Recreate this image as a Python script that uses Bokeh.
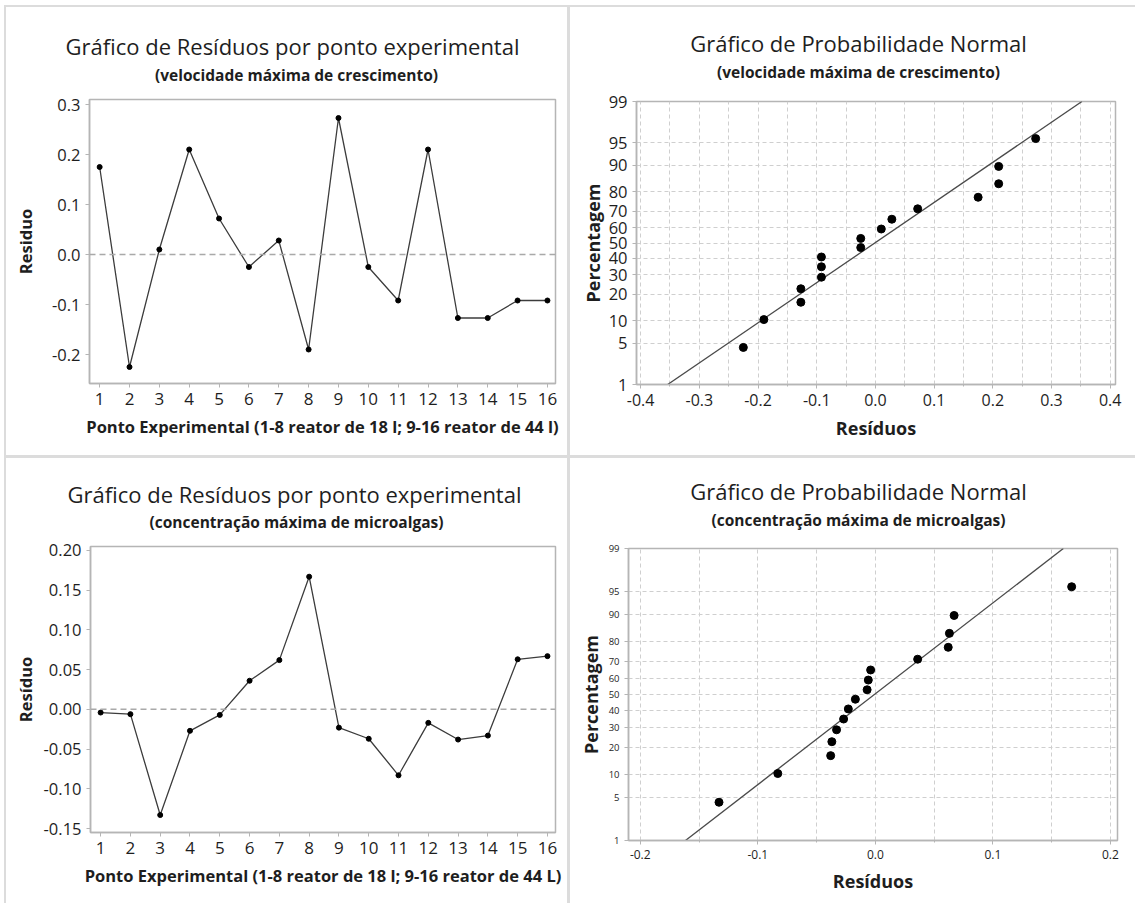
from statistics import NormalDist

import numpy as np
from bokeh.core.properties import value
from bokeh.embed import file_html
from bokeh.layouts import column, row
from bokeh.models import FixedTicker, PrintfTickFormatter, Range1d, Span
from bokeh.plotting import figure
from bokeh.resources import INLINE

# ---------------------------------------------------------------- data
points = list(range(1, 17))
res_velocidade = [0.175, -0.225, 0.010, 0.210, 0.072, -0.025, 0.028, -0.190,
                  0.273, -0.025, -0.092, 0.210, -0.127, -0.127, -0.092, -0.092]
res_concentracao = [-0.004, -0.006, -0.133, -0.027, -0.007, 0.036, 0.062, 0.167,
                    -0.023, -0.037, -0.083, -0.017, -0.038, -0.033, 0.063, 0.067]
# cumulative percentage of each ordered residual on the normal plots
pct_positions = [4.3, 10.4, 16.5, 22.6, 28.7, 34.8, 40.9, 47.0,
                 53.0, 59.1, 65.2, 71.3, 77.4, 83.5, 89.6, 95.7]
pct_ticks = [1, 5, 10, 20, 30, 40, 50, 60, 70, 80, 90, 95, 99]
vel_y_ticks = [-0.2, -0.1, 0.0, 0.1, 0.2, 0.3]
conc_y_ticks = [-0.15, -0.10, -0.05, 0.0, 0.05, 0.10, 0.15, 0.20]
vel_x_ticks = [-0.4, -0.3, -0.2, -0.1, 0.0, 0.1, 0.2, 0.3, 0.4]
conc_x_ticks = [-0.2, -0.1, 0.0, 0.1, 0.2]

FONT = "Open Sans"
INK = "#1e1e1e"
FRAME = "#b5b5b5"
GRID = "#cfcfcf"

nd = NormalDist()


def z(p):
    return nd.inv_cdf(p / 100.0)


def title_fig(w, h, title, subtitle, title_xy, sub_xy, tsize="22px", ssize="15.5px"):
    """Header strip above a panel; positions are pixels from the strip's top-left."""
    t = figure(width=w, height=h, x_range=Range1d(0, w), y_range=Range1d(h, 0),
               output_backend="svg", toolbar_location=None, min_border=0,
               x_axis_type=None, y_axis_type=None, frame_align=False)
    t.outline_line_color = None
    t.grid.visible = False
    t.border_fill_color = "white"
    t.text(x=[title_xy[0]], y=[title_xy[1]], text=[title], text_align="center",
           text_baseline="middle", text_font=value(FONT), text_font_size=tsize,
           text_color=INK)
    t.text(x=[sub_xy[0]], y=[sub_xy[1]], text=[subtitle], text_align="center",
           text_baseline="middle", text_font=value(FONT), text_font_size=ssize,
           text_font_style="bold", text_color=INK)
    return t


def make_fig(w, h, borders, xr, yr):
    l, r, t, b = borders
    p = figure(width=w, height=h, x_range=xr, y_range=yr,
               output_backend="svg", toolbar_location=None, frame_align=False,
               min_border_left=l, min_border_right=r,
               min_border_top=t, min_border_bottom=b)
    p.outline_line_color = FRAME
    p.outline_line_width = 1.5
    p.border_fill_color = "white"
    p.background_fill_color = "white"
    p.xgrid.grid_line_color = None
    p.ygrid.grid_line_color = None
    for ax in (p.xaxis[0], p.yaxis[0]):
        ax.axis_line_color = FRAME
        ax.axis_line_width = 1.5
        ax.major_tick_line_color = FRAME
        ax.major_tick_in = 0
        ax.major_tick_out = 4
        ax.minor_tick_line_color = None
        ax.major_label_text_font = FONT
        ax.major_label_text_color = INK
        ax.axis_label_text_font = FONT
        ax.axis_label_text_font_style = "bold"
        ax.axis_label_text_color = INK
        ax.axis_label_text_font_size = "16.5px"
    return p


def residual_panel(w, h, borders, xr, yr, values, yticks, fmt, ylabel, xlabel, ystand):
    p = make_fig(w, h, borders, Range1d(*xr), Range1d(*yr))
    p.add_layout(Span(location=0, dimension="width", line_color="#a9a9a9",
                      line_dash="6 4", line_width=1.5))
    p.line(points, values, line_color="#3c3c3c", line_width=1.3)
    p.scatter(points, values, size=5, color="black")
    p.xaxis.ticker = FixedTicker(ticks=points)
    p.yaxis.ticker = FixedTicker(ticks=yticks)
    p.yaxis.formatter = PrintfTickFormatter(format=fmt)
    p.xaxis.major_label_text_font_size = "17px"
    p.yaxis.major_label_text_font_size = "16.5px"
    p.xaxis.axis_label = xlabel
    p.yaxis.axis_label = ylabel
    p.xaxis.axis_label_standoff = 7
    p.yaxis.axis_label_standoff = ystand
    return p


def normal_panel(w, h, borders, xr, values, xticks, xstep, ysize, xsize, ystand):
    zlo, zhi = z(1), z(99)
    p = make_fig(w, h, borders, Range1d(*xr), Range1d(zlo, zhi))
    ordered = sorted(values)
    zs = [z(v) for v in pct_positions]
    # reference line of the fitted normal distribution
    mu = float(np.mean(values))
    sd = float(np.std(values, ddof=1))
    p.line([mu + sd * zlo, mu + sd * zhi], [zlo, zhi], line_color="#4a4a4a", line_width=1.3)
    p.scatter(ordered, zs, size=8, color="black")

    ytick_pos = [z(v) for v in pct_ticks]
    p.yaxis.ticker = FixedTicker(ticks=ytick_pos)
    p.yaxis.major_label_overrides = {zp: str(v) for zp, v in zip(ytick_pos, pct_ticks)}
    grid_x = [float(g) for g in np.round(np.arange(xticks[0], xticks[-1] + 1e-9, xstep), 3)]
    minor = [g for g in grid_x if min(abs(g - t) for t in xticks) > 1e-6]
    p.xaxis.ticker = FixedTicker(ticks=xticks, minor_ticks=minor)
    p.xaxis.minor_tick_line_color = FRAME
    p.xaxis.minor_tick_in = 0
    p.xaxis.minor_tick_out = 2
    p.xaxis.formatter = PrintfTickFormatter(format="%.1f")
    p.xgrid.ticker = FixedTicker(ticks=grid_x)
    p.ygrid.ticker = FixedTicker(ticks=ytick_pos)
    for g in (p.xgrid, p.ygrid):
        g.grid_line_color = GRID
        g.grid_line_dash = "4 3"
        g.grid_line_width = 1
    p.yaxis.major_label_text_font_size = ysize
    p.xaxis.major_label_text_font_size = xsize
    p.xaxis.axis_label = "Resíduos"
    p.yaxis.axis_label = "Percentagem"
    p.xaxis.axis_label_standoff = 7
    p.yaxis.axis_label_standoff = ystand
    p.yaxis.axis_label_text_font_size = "18px"
    p.xaxis.axis_label_text_font_size = "18px"
    return p


def cell(t, p):
    return column(t, p, spacing=0, styles={"background-color": "white"})


# ---------------------------------------------------------------- panels
# top-left: residuals by run (growth rate)
t1 = title_fig(561, 80, "Gráfico de Resíduos por ponto experimental",
               "(velocidade máxima de crescimento)", (286, 38), (290, 67))
p1 = residual_panel(561, 368, (83, 12, 12, 72), (0.66, 16.27), (-0.258, 0.31),
                    res_velocidade, vel_y_ticks, "%.1f", "Residuo",
                    "Ponto Experimental (1-8 reator de 18 l; 9-16 reator de 44 l)", 12)

# top-right: normal probability (growth rate)
t2 = title_fig(565, 80, "Gráfico de Probabilidade Normal",
               "(velocidade máxima de crescimento)", (288, 35), (288, 64))
p2 = normal_panel(565, 368, (66, 20, 14, 71), (-0.407, 0.409),
                  res_velocidade, vel_x_ticks, 0.05, "16.5px", "16px", 1)

# bottom-left: residuals by run (biomass)
t3 = title_fig(561, 76, "Gráfico de Resíduos por ponto experimental",
               "(concentração máxima de microalgas)", (288, 35), (290, 63))
p3 = residual_panel(561, 369, (84, 12, 12, 71), (0.66, 16.27), (-0.155, 0.205),
                    res_concentracao, conc_y_ticks, "%.2f", "Resíduo",
                    "Ponto Experimental (1-8 reator de 18 l; 9-16 reator de 44 L)", 4)

# bottom-right: normal probability (biomass)
t4 = title_fig(565, 76, "Gráfico de Probabilidade Normal",
               "(concentração máxima de microalgas)", (288, 32), (288, 61))
p4 = normal_panel(565, 369, (58, 18, 14, 63), (-0.210, 0.206),
                  res_concentracao, conc_x_ticks, 0.05, "9.5px", "12px", 3)

page = column(row(cell(t1, p1), cell(t2, p2), spacing=3),
              row(cell(t3, p3), cell(t4, p4), spacing=3),
              spacing=3, margin=(5, 0, 0, 4),
              styles={"background-color": "#dcdcdc", "padding": "2px 0 0 2px"})

open("out.html", "w").write(file_html(page, INLINE))
